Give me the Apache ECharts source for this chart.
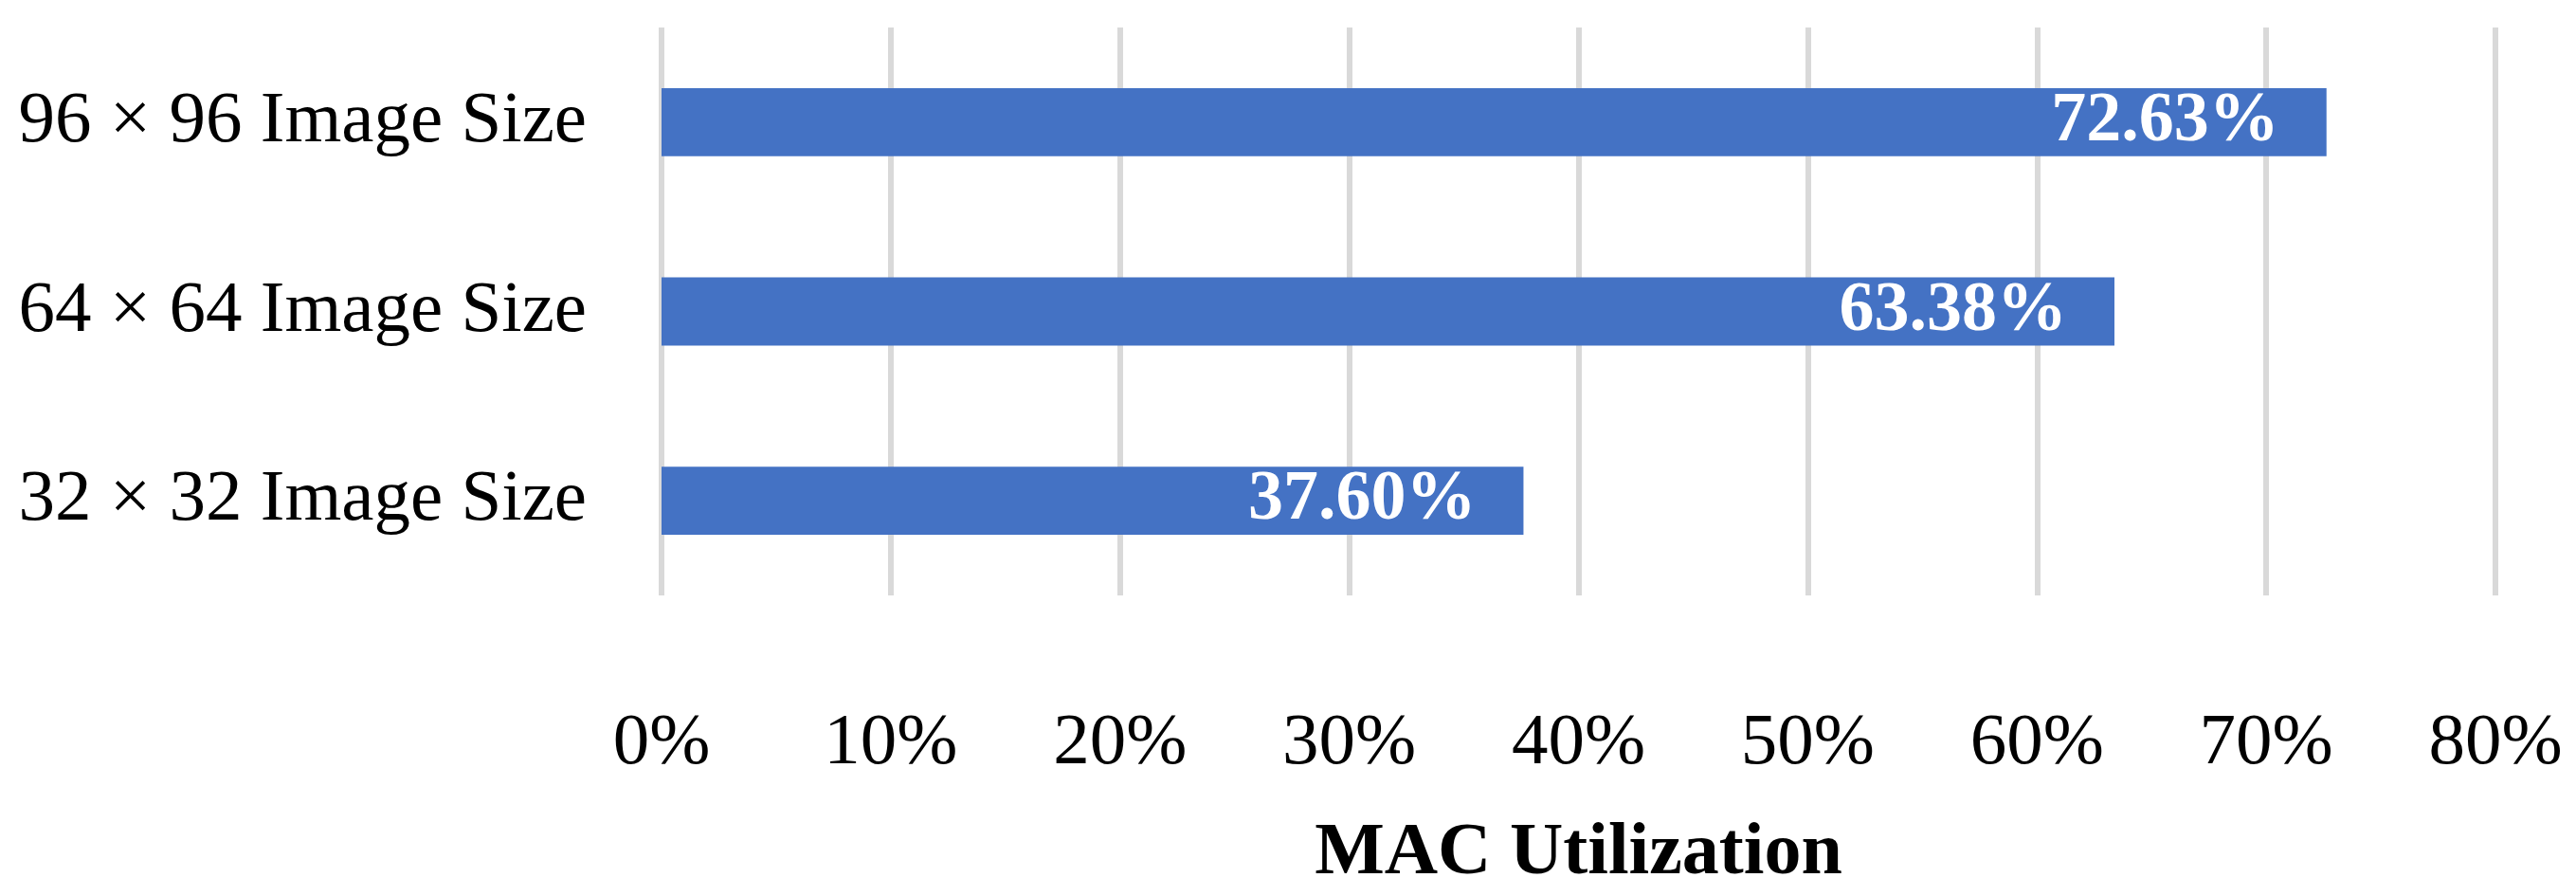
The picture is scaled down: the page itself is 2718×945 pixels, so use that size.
<!DOCTYPE html>
<html>
<head>
<meta charset="utf-8">
<script src="https://cdn.jsdelivr.net/npm/echarts@6/dist/echarts.min.js"></script>
<style>html,body{margin:0;padding:0;background:#fff}#chart{width:2718px;height:945px}</style>
</head>
<body>
<div id="chart"></div>
<script>
// categories, bottom to top
var categories = ["32 × 32 Image Size", "64 × 64 Image Size", "96 × 96 Image Size"];
var utilization = [37.60, 63.38, 72.63];
var xTicks = [0, 10, 20, 30, 40, 50, 60, 70, 80];

var font = "'Liberation Serif', 'DejaVu Serif', serif";
var chart = echarts.init(document.getElementById('chart'));
chart.setOption({
    animation: false,
    grid: { left: 698, right: 85, top: 29, height: 621 },
    xAxis: {
        type: 'value',
        min: xTicks[0],
        max: xTicks[xTicks.length - 1],
        interval: 10,
        name: 'MAC Utilization',
        nameLocation: 'middle',
        nameGap: 234,
        nameTextStyle: { fontFamily: font, fontSize: 78, fontWeight: 'bold', color: '#000' },
        axisLine: { show: false },
        axisTick: { show: false },
        axisLabel: { margin: 118, fontFamily: font, fontSize: 77, color: '#000', formatter: '{value}%' },
        splitLine: { lineStyle: { color: '#d9d9d9', width: 6 } }
    },
    yAxis: {
        type: 'category',
        data: categories,
        axisLine: { show: false },
        axisTick: { show: false },
        axisLabel: { margin: 79, fontFamily: font, fontSize: 77, color: '#000' }
    },
    series: [{
        type: 'bar',
        data: utilization,
        barWidth: '36%',
        itemStyle: { color: '#4472C4' },
        label: {
            show: true,
            position: 'insideRight',
            distance: 50,
            fontFamily: font,
            fontSize: 74,
            fontWeight: 'bold',
            color: '#fff',
            formatter: function (p) { return p.value.toFixed(2) + '%'; }
        }
    }]
});
</script>
</body>
</html>
